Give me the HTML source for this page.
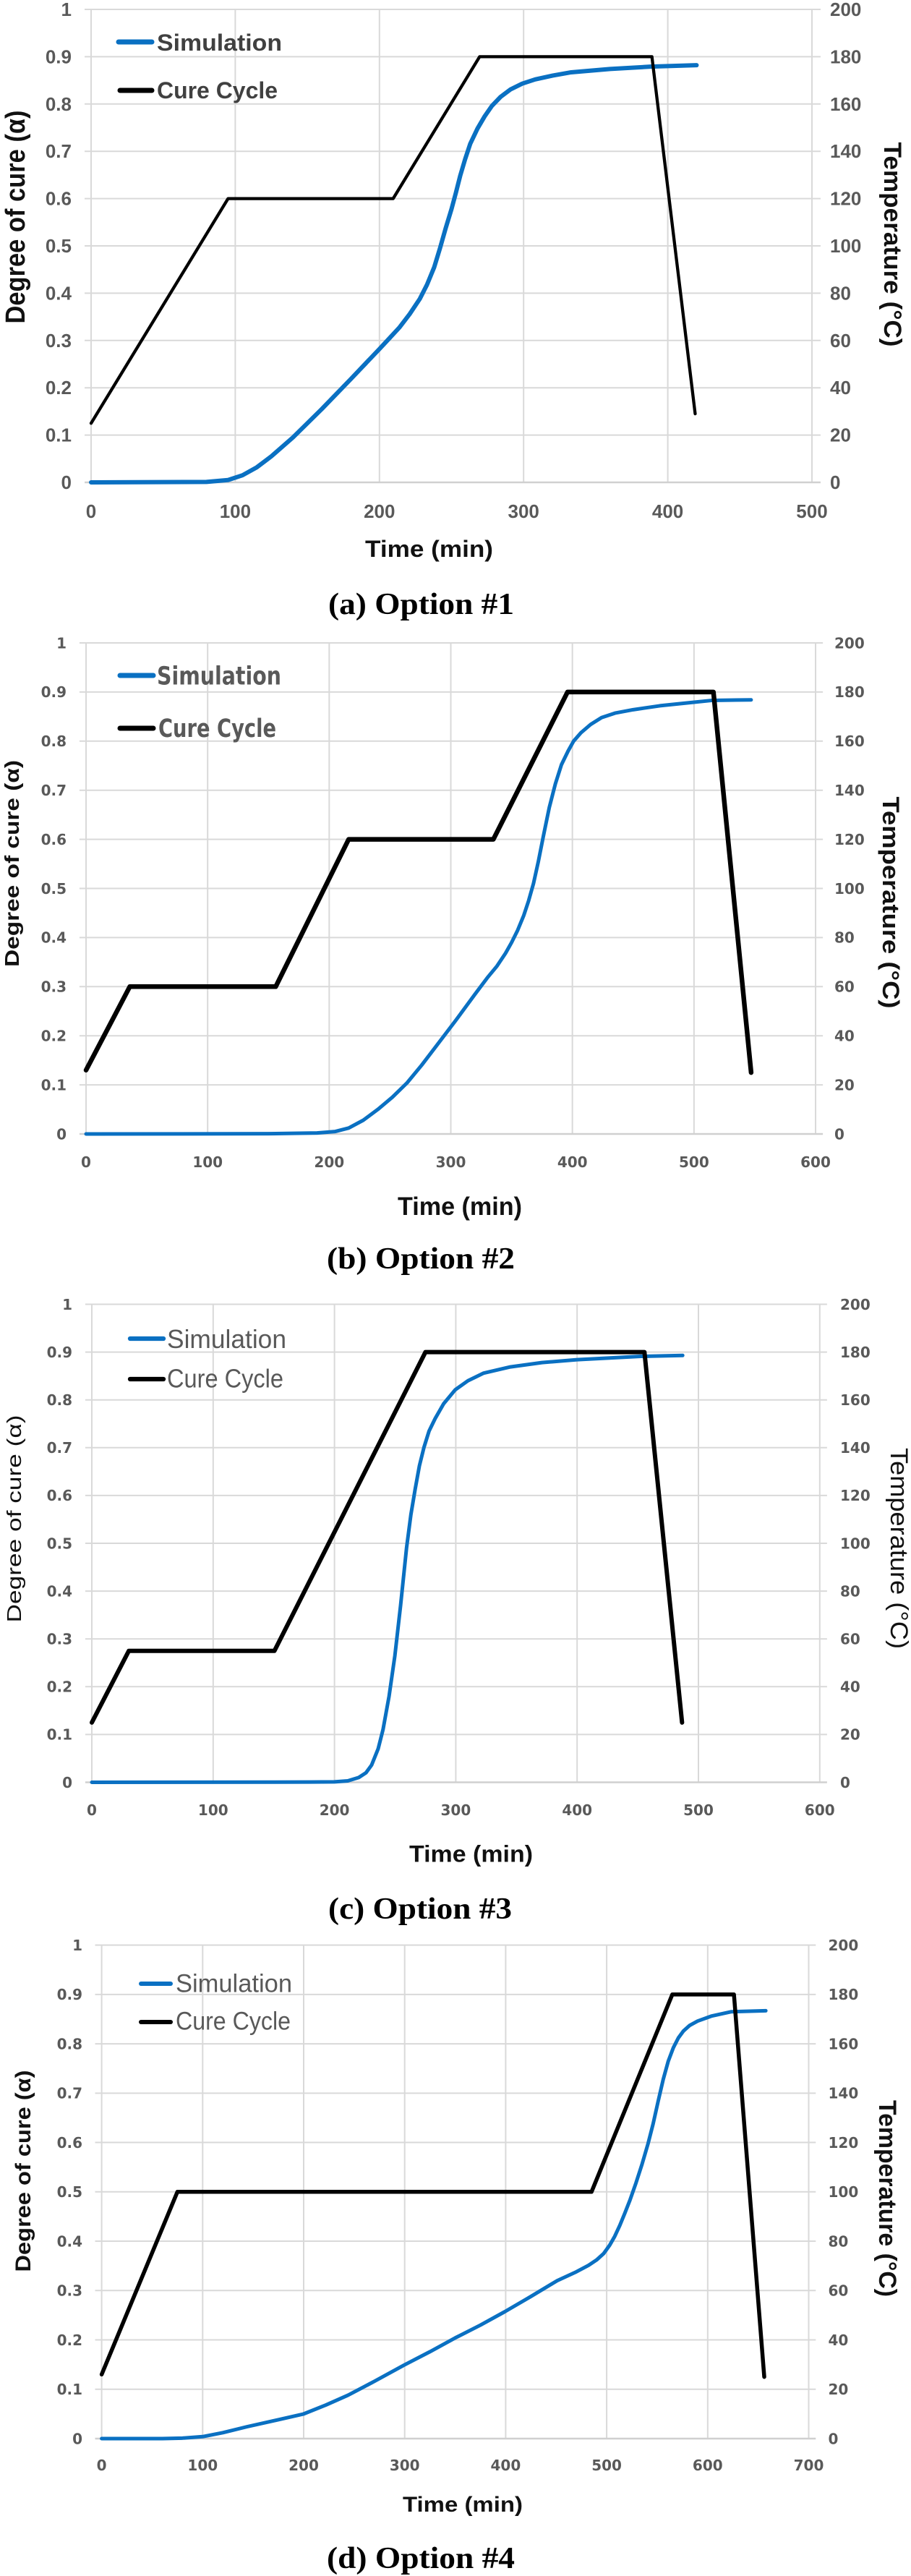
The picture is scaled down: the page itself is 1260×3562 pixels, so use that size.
<!DOCTYPE html>
<html>
<head>
<meta charset="utf-8">
<style>
html,body{margin:0;padding:0;background:#fff;}
svg{display:block;}
.g{stroke:#d9d9d9;stroke-width:2;fill:none;vector-effect:non-scaling-stroke;}
.ax{stroke:#d0d0d0;stroke-width:2.5;fill:none;vector-effect:non-scaling-stroke;}
.tk{font-family:"Liberation Sans","DejaVu Sans",sans-serif;font-weight:bold;fill:#595959;}
.tkd{font-family:"DejaVu Sans","Liberation Sans",sans-serif;font-weight:bold;fill:#595959;font-size:20px;}
.ttl{font-family:"Liberation Sans","DejaVu Sans",sans-serif;fill:#111;}
.cap{font-family:"Liberation Serif","DejaVu Serif",serif;font-weight:bold;font-size:42px;fill:#000;}
.blue{stroke:#0a70c2;fill:none;stroke-linejoin:round;stroke-linecap:round;vector-effect:non-scaling-stroke;}
.blk{stroke:#000;fill:none;stroke-linejoin:round;stroke-linecap:round;vector-effect:non-scaling-stroke;}
</style>
</head>
<body>
<svg width="1260" height="3562" viewBox="0 0 1260 3562" xmlns="http://www.w3.org/2000/svg">
<rect x="0" y="0" width="1260" height="3562" fill="#fff"/>

<!-- ================= PANEL A ================= -->
<g transform="matrix(1.994 0 0 -654 126 667)">
  <path class="g" d="M-4.5,0.1H506M-4.5,0.2H506M-4.5,0.3H506M-4.5,0.4H506M-4.5,0.5H506M-4.5,0.6H506M-4.5,0.7H506M-4.5,0.8H506M-4.5,0.9H506M-4.5,1H506"/>
  <path class="g" d="M0,0V1M100,0V1M200,0V1M300,0V1M400,0V1M500,0V1"/>
  <path class="ax" d="M-4.5,0H506"/>
  <polyline class="blue" style="stroke-width:6" points="0,0 80,0.001 95,0.005 105,0.015 115,0.032 125,0.055 140,0.095 160,0.155 180,0.218 190,0.25 200,0.282 207,0.305 214,0.328 221,0.356 228,0.388 233,0.418 238,0.455 242,0.495 246,0.538 250,0.578 253,0.612 256,0.648 259.4,0.683 263,0.716 268,0.748 273,0.774 278,0.796 284,0.815 291,0.831 299,0.843 308,0.852 320,0.86 333,0.867 360,0.874 388,0.879 420,0.882"/>
  <polyline class="blk" style="stroke-width:4.3" points="0,0.125 95,0.6 209.5,0.6 269.5,0.9 389,0.9 419,0.145"/>
</g>
<g class="tk" font-size="26" text-anchor="end">
  <text x="99" y="676">0</text><text x="99" y="610.6">0.1</text><text x="99" y="545.2">0.2</text><text x="99" y="479.8">0.3</text><text x="99" y="414.4">0.4</text><text x="99" y="349">0.5</text><text x="99" y="283.6">0.6</text><text x="99" y="218.2">0.7</text><text x="99" y="152.8">0.8</text><text x="99" y="87.4">0.9</text><text x="99" y="22">1</text>
</g>
<g class="tk" font-size="26" text-anchor="start">
  <text x="1148" y="676">0</text><text x="1148" y="610.6">20</text><text x="1148" y="545.2">40</text><text x="1148" y="479.8">60</text><text x="1148" y="414.4">80</text><text x="1148" y="349">100</text><text x="1148" y="283.6">120</text><text x="1148" y="218.2">140</text><text x="1148" y="152.8">160</text><text x="1148" y="87.4">180</text><text x="1148" y="22">200</text>
</g>
<g class="tk" font-size="26" text-anchor="middle">
  <text x="126" y="716">0</text><text x="325.4" y="716">100</text><text x="524.8" y="716">200</text><text x="724.2" y="716">300</text><text x="923.6" y="716">400</text><text x="1123" y="716">500</text>
</g>
<line x1="164" y1="58" x2="210" y2="58" stroke="#0a70c2" stroke-width="7" stroke-linecap="round"/>
<line x1="166" y1="125" x2="210" y2="125" stroke="#000" stroke-width="7" stroke-linecap="round"/>
<text class="ttl" x="217" y="70" font-size="32" font-weight="bold" style="fill:#404040" textLength="173" lengthAdjust="spacingAndGlyphs">Simulation</text>
<text class="ttl" x="217" y="136" font-size="32" font-weight="bold" style="fill:#404040" textLength="167" lengthAdjust="spacingAndGlyphs">Cure Cycle</text>
<text class="ttl" font-size="38" font-weight="bold" text-anchor="middle" transform="translate(34,300) rotate(-90)" textLength="295" lengthAdjust="spacingAndGlyphs">Degree of cure (α)</text>
<text class="ttl" font-size="34" font-weight="bold" text-anchor="middle" transform="translate(1223,338) rotate(90)" textLength="283" lengthAdjust="spacingAndGlyphs">Temperature (°C)</text>
<text class="ttl" x="593.5" y="770" font-size="32" font-weight="bold" text-anchor="middle" textLength="177" lengthAdjust="spacingAndGlyphs">Time (min)</text>
<text class="cap" x="582.5" y="849" text-anchor="middle" textLength="257" lengthAdjust="spacingAndGlyphs">(a) Option #1</text>

<!-- ================= PANEL B ================= -->
<g transform="matrix(1.6817 0 0 -679 119 1568)">
  <path class="g" d="M-5.4,0.1H606M-5.4,0.2H606M-5.4,0.3H606M-5.4,0.4H606M-5.4,0.5H606M-5.4,0.6H606M-5.4,0.7H606M-5.4,0.8H606M-5.4,0.9H606M-5.4,1H606"/>
  <path class="g" d="M0,0V1M100,0V1M200,0V1M300,0V1M400,0V1M500,0V1M600,0V1"/>
  <path class="ax" d="M-5.4,0H606"/>
  <polyline class="blue" style="stroke-width:5" points="0,0 150,0.0005 190,0.002 205,0.005 216,0.012 228,0.028 240,0.05 252,0.075 264,0.104 276,0.14 288,0.179 304,0.231 320,0.285 330,0.318 338,0.342 345,0.368 350,0.39 355,0.415 360,0.445 364,0.475 368,0.51 372,0.555 376,0.605 381,0.665 386,0.713 391,0.752 396.5,0.78 401,0.8 407,0.817 415,0.834 424,0.848 435,0.857 450,0.864 472,0.872 495,0.878 515,0.883 547,0.884"/>
  <polyline class="blk" style="stroke-width:6.5" points="0,0.13 36,0.3 156,0.3 216,0.6 335,0.6 396,0.9 516,0.9 547,0.125"/>
</g>
<g class="tkd" text-anchor="end">
  <text x="92" y="1575.3">0</text><text x="92" y="1507.4">0.1</text><text x="92" y="1439.5">0.2</text><text x="92" y="1371.6">0.3</text><text x="92" y="1303.7">0.4</text><text x="92" y="1235.8">0.5</text><text x="92" y="1167.9">0.6</text><text x="92" y="1100">0.7</text><text x="92" y="1032.1">0.8</text><text x="92" y="964.2">0.9</text><text x="92" y="896.3">1</text>
</g>
<g class="tkd" text-anchor="start">
  <text x="1154" y="1575.3">0</text><text x="1154" y="1507.4">20</text><text x="1154" y="1439.5">40</text><text x="1154" y="1371.6">60</text><text x="1154" y="1303.7">80</text><text x="1154" y="1235.8">100</text><text x="1154" y="1167.9">120</text><text x="1154" y="1100">140</text><text x="1154" y="1032.1">160</text><text x="1154" y="964.2">180</text><text x="1154" y="896.3">200</text>
</g>
<g class="tkd" text-anchor="middle">
  <text x="119" y="1614">0</text><text x="287.2" y="1614">100</text><text x="455.3" y="1614">200</text><text x="623.5" y="1614">300</text><text x="791.7" y="1614">400</text><text x="959.9" y="1614">500</text><text x="1128" y="1614">600</text>
</g>
<line x1="166" y1="934" x2="212" y2="934" stroke="#0a70c2" stroke-width="7" stroke-linecap="round"/>
<line x1="166" y1="1007" x2="212" y2="1007" stroke="#000" stroke-width="7" stroke-linecap="round"/>
<text x="217" y="946.5" font-family="DejaVu Sans, Liberation Sans, sans-serif" font-weight="bold" font-size="35" fill="#595959" textLength="172" lengthAdjust="spacingAndGlyphs">Simulation</text>
<text x="219" y="1019" font-family="DejaVu Sans, Liberation Sans, sans-serif" font-weight="bold" font-size="35" fill="#595959" textLength="163" lengthAdjust="spacingAndGlyphs">Cure Cycle</text>
<text class="ttl" font-size="28" font-weight="bold" text-anchor="middle" transform="translate(26,1194) rotate(-90)" textLength="286" lengthAdjust="spacingAndGlyphs">Degree of cure (α)</text>
<text class="ttl" font-size="32" font-weight="bold" text-anchor="middle" transform="translate(1221,1248) rotate(90)" textLength="293" lengthAdjust="spacingAndGlyphs">Temperature (°C)</text>
<text class="ttl" x="636" y="1680" font-size="35" font-weight="bold" text-anchor="middle" textLength="172" lengthAdjust="spacingAndGlyphs">Time (min)</text>
<text class="cap" x="582" y="1754" text-anchor="middle" textLength="260" lengthAdjust="spacingAndGlyphs">(b) Option #2</text>

<!-- ================= PANEL C ================= -->
<g transform="matrix(1.678 0 0 -661 127 2464.5)">
  <path class="g" d="M-5.4,0.1H606M-5.4,0.2H606M-5.4,0.3H606M-5.4,0.4H606M-5.4,0.5H606M-5.4,0.6H606M-5.4,0.7H606M-5.4,0.8H606M-5.4,0.9H606M-5.4,1H606"/>
  <path class="g" d="M0,0V1M100,0V1M200,0V1M300,0V1M400,0V1M500,0V1M600,0V1"/>
  <path class="ax" d="M-5.4,0H606"/>
  <polyline class="blue" style="stroke-width:5" points="0,0 180,0.0005 200,0.001 211,0.003 220,0.01 226,0.02 230.6,0.036 236,0.07 240,0.11 245,0.18 249.8,0.265 254.5,0.37 259.4,0.49 263,0.56 266.5,0.613 270,0.662 273.7,0.7 278,0.735 283,0.761 290,0.792 299.5,0.821 310,0.84 323,0.856 345,0.869 371,0.878 400,0.884 452.5,0.891 487,0.893"/>
  <polyline class="blk" style="stroke-width:6" points="0,0.125 30.5,0.275 150.5,0.275 275,0.9 455.5,0.9 486.5,0.125"/>
</g>
<g class="tkd" text-anchor="end">
  <text x="100" y="2471.8">0</text><text x="100" y="2405.7">0.1</text><text x="100" y="2339.6">0.2</text><text x="100" y="2273.5">0.3</text><text x="100" y="2207.4">0.4</text><text x="100" y="2141.3">0.5</text><text x="100" y="2075.2">0.6</text><text x="100" y="2009.1">0.7</text><text x="100" y="1943">0.8</text><text x="100" y="1876.9">0.9</text><text x="100" y="1810.8">1</text>
</g>
<g class="tkd" text-anchor="start">
  <text x="1162" y="2471.8">0</text><text x="1162" y="2405.7">20</text><text x="1162" y="2339.6">40</text><text x="1162" y="2273.5">60</text><text x="1162" y="2207.4">80</text><text x="1162" y="2141.3">100</text><text x="1162" y="2075.2">120</text><text x="1162" y="2009.1">140</text><text x="1162" y="1943">160</text><text x="1162" y="1876.9">180</text><text x="1162" y="1810.8">200</text>
</g>
<g class="tkd" text-anchor="middle">
  <text x="127" y="2510">0</text><text x="294.8" y="2510">100</text><text x="462.6" y="2510">200</text><text x="630.4" y="2510">300</text><text x="798.2" y="2510">400</text><text x="966" y="2510">500</text><text x="1133.8" y="2510">600</text>
</g>
<line x1="180" y1="1851" x2="226" y2="1851" stroke="#0a70c2" stroke-width="6.3" stroke-linecap="round"/>
<line x1="180" y1="1907" x2="226" y2="1907" stroke="#000" stroke-width="6.3" stroke-linecap="round"/>
<text class="ttl" x="231" y="1864" font-size="36" style="fill:#595959" textLength="165" lengthAdjust="spacingAndGlyphs">Simulation</text>
<text class="ttl" x="231" y="1918.6" font-size="36" style="fill:#595959" textLength="161" lengthAdjust="spacingAndGlyphs">Cure Cycle</text>
<text class="ttl" font-size="28" text-anchor="middle" transform="translate(29,2100) rotate(-90)" textLength="287" lengthAdjust="spacingAndGlyphs">Degree of cure (α)</text>
<text class="ttl" font-size="34" text-anchor="middle" transform="translate(1232,2141) rotate(90)" textLength="278" lengthAdjust="spacingAndGlyphs">Temperature (°C)</text>
<text class="ttl" x="651.5" y="2574.4" font-size="32" font-weight="bold" text-anchor="middle" textLength="171" lengthAdjust="spacingAndGlyphs">Time (min)</text>
<text class="cap" x="581" y="2653" text-anchor="middle" textLength="254" lengthAdjust="spacingAndGlyphs">(c) Option #3</text>

<!-- ================= PANEL D ================= -->
<g transform="matrix(1.397 0 0 -682.4 140.6 3372)">
  <path class="g" d="M-6.5,0.1H707M-6.5,0.2H707M-6.5,0.3H707M-6.5,0.4H707M-6.5,0.5H707M-6.5,0.6H707M-6.5,0.7H707M-6.5,0.8H707M-6.5,0.9H707M-6.5,1H707"/>
  <path class="g" d="M0,0V1M100,0V1M200,0V1M300,0V1M400,0V1M500,0V1M600,0V1M700,0V1"/>
  <path class="ax" d="M-6.5,0H707"/>
  <polyline class="blue" style="stroke-width:5" points="0,0 60,0 80,0.001 100,0.004 120,0.012 143.8,0.024 170,0.036 200,0.05 222,0.068 244,0.088 270,0.116 299.5,0.149 325,0.176 350,0.204 375,0.23 399,0.257 425,0.288 451,0.32 470,0.338 482,0.351 490,0.362 497,0.375 503,0.392 508,0.41 513,0.432 518,0.457 523,0.483 529,0.518 535,0.556 541,0.598 546,0.638 551,0.684 556,0.728 561,0.765 566,0.792 571,0.812 576,0.826 582,0.837 590,0.846 603.5,0.856 623.5,0.865 657.5,0.867"/>
  <polyline class="blk" style="stroke-width:5.5" points="0,0.13 75,0.5 485,0.5 565,0.9 626,0.9 656,0.125"/>
</g>
<g class="tkd" text-anchor="end">
  <text x="114" y="3379.3">0</text><text x="114" y="3311.1">0.1</text><text x="114" y="3242.8">0.2</text><text x="114" y="3174.6">0.3</text><text x="114" y="3106.3">0.4</text><text x="114" y="3038.1">0.5</text><text x="114" y="2969.9">0.6</text><text x="114" y="2901.6">0.7</text><text x="114" y="2833.4">0.8</text><text x="114" y="2765.1">0.9</text><text x="114" y="2696.9">1</text>
</g>
<g class="tkd" text-anchor="start">
  <text x="1145.5" y="3379.3">0</text><text x="1145.5" y="3311.1">20</text><text x="1145.5" y="3242.8">40</text><text x="1145.5" y="3174.6">60</text><text x="1145.5" y="3106.3">80</text><text x="1145.5" y="3038.1">100</text><text x="1145.5" y="2969.9">120</text><text x="1145.5" y="2901.6">140</text><text x="1145.5" y="2833.4">160</text><text x="1145.5" y="2765.1">180</text><text x="1145.5" y="2696.9">200</text>
</g>
<g class="tkd" text-anchor="middle">
  <text x="140.6" y="3416">0</text><text x="280.3" y="3416">100</text><text x="420" y="3416">200</text><text x="559.7" y="3416">300</text><text x="699.4" y="3416">400</text><text x="839.1" y="3416">500</text><text x="978.8" y="3416">600</text><text x="1118.5" y="3416">700</text>
</g>
<line x1="195" y1="2743" x2="236" y2="2743" stroke="#0a70c2" stroke-width="6" stroke-linecap="round"/>
<line x1="195" y1="2796" x2="236" y2="2796" stroke="#000" stroke-width="6" stroke-linecap="round"/>
<text class="ttl" x="243" y="2754.7" font-size="35" style="fill:#595959" textLength="161" lengthAdjust="spacingAndGlyphs">Simulation</text>
<text class="ttl" x="243" y="2806.5" font-size="35" style="fill:#595959" textLength="159" lengthAdjust="spacingAndGlyphs">Cure Cycle</text>
<text class="ttl" font-size="30" font-weight="bold" text-anchor="middle" transform="translate(42,3002) rotate(-90)" textLength="279" lengthAdjust="spacingAndGlyphs">Degree of cure (α)</text>
<text class="ttl" font-size="34" font-weight="bold" text-anchor="middle" transform="translate(1216,3040) rotate(90)" textLength="272" lengthAdjust="spacingAndGlyphs">Temperature (°C)</text>
<text class="ttl" x="640" y="3473" font-size="30" font-weight="bold" text-anchor="middle" textLength="166" lengthAdjust="spacingAndGlyphs">Time (min)</text>
<text class="cap" x="582" y="3551" text-anchor="middle" textLength="260" lengthAdjust="spacingAndGlyphs">(d) Option #4</text>
</svg>
</body>
</html>
